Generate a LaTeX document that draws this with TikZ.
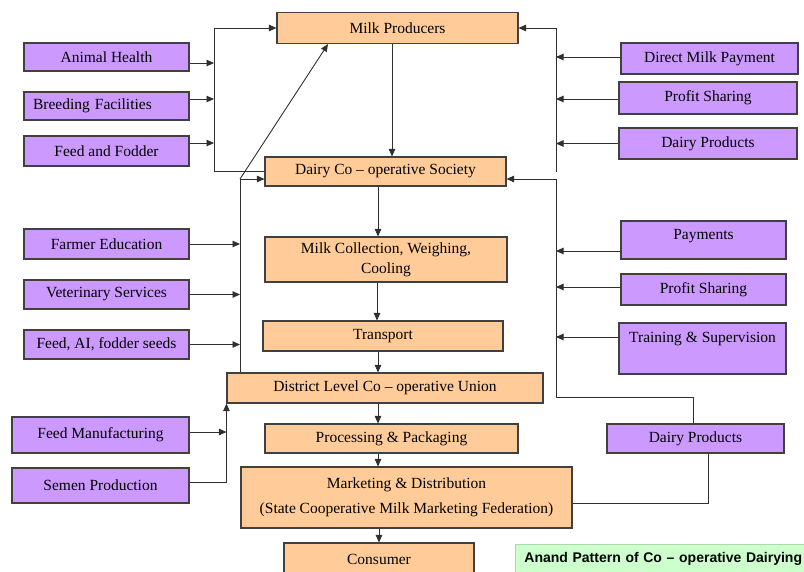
\documentclass[tikz,border=0pt]{standalone}
\usepackage{fontspec}
\setmainfont{Liberation Serif}
\newfontfamily\headfont{Liberation Sans}
\usetikzlibrary{arrows.meta}
\definecolor{peach}{HTML}{FFCC99}
\definecolor{lilac}{HTML}{CC99FF}
\definecolor{mint}{HTML}{CCFFCC}
\definecolor{boxline}{HTML}{404040}
\definecolor{wirecol}{HTML}{303030}
\newcommand{\bodyfont}{\fontsize{15.5}{18}\selectfont}
\begin{document}
\begin{tikzpicture}[x=1pt,y=-1pt,
  box/.style={draw=boxline, line width=1.1pt, inner sep=0pt, font=\bodyfont, align=center},
  org/.style={box, fill=peach},
  pur/.style={box, fill=lilac},
  wire/.style={draw=wirecol, line width=0.9pt},
  arr/.style={wire, -{Triangle[length=7.5pt,width=6.5pt]}},
]
\useasboundingbox (0,0) rectangle (804,571);

% main chain
\node[org, minimum width=241pt, minimum height=31pt] (mp) at (397.5,28) {Milk Producers};
\node[org, minimum width=241pt, minimum height=29pt] (dcs) at (385.5,171.5) {Dairy Co -- operative Society};
\node[org, minimum width=242pt, minimum height=45pt] (mc) at (386,259.5) {Milk Collection, Weighing,\\[2pt]Cooling};
\node[org, minimum width=240pt, minimum height=30pt] (tr) at (383,336) {Transport};
\node[org, minimum width=316pt, minimum height=30pt] (dl) at (385,388) {District Level Co -- operative Union};
\node[org, minimum width=253pt, minimum height=29pt] (pp) at (391.5,438.5) {Processing \& Packaging};
\node[org, minimum width=331pt, minimum height=61pt] (md) at (406.5,497.5) {Marketing \& Distribution\\[7pt](State Cooperative Milk Marketing Federation)};
\node[org, minimum width=190pt, minimum height=32pt] (cons) at (379,559) {Consumer};

% inputs on the left
\node[pur, minimum width=165pt, minimum height=28pt] (ah) at (106.5,57) {Animal Health};
\node[pur, minimum width=165pt, minimum height=28pt, text width=147pt, align=left] (bf) at (106.5,106) {Breeding Facilities};
\node[pur, minimum width=165pt, minimum height=30pt] (ff) at (106.5,151) {Feed and Fodder};
\node[pur, minimum width=165pt, minimum height=30pt] (fe) at (106.5,244) {Farmer Education};
\node[pur, minimum width=165pt, minimum height=29pt] (vs) at (106.5,294.5) {Veterinary Services};
\node[pur, minimum width=165pt, minimum height=29pt] (fa) at (106.5,344.5) {Feed, AI, fodder seeds};
\node[pur, minimum width=177pt, minimum height=36pt] (fm) at (100.5,435) {Feed Manufacturing};
\node[pur, minimum width=177pt, minimum height=35pt] (sp) at (100.5,485.5) {Semen Production};

% returns on the right
\node[pur, minimum width=177pt, minimum height=31pt] (dmp) at (709.5,58.5) {Direct Milk Payment};
\node[pur, minimum width=178pt, minimum height=32pt] (ps1) at (708,98) {Profit Sharing};
\node[pur, minimum width=178pt, minimum height=31pt] (dp1) at (708,143.5) {Dairy Products};
\node[pur, minimum width=165pt, minimum height=38pt, label={[font=\bodyfont, yshift=4pt]center:Payments}] (pay) at (703.5,240) {};
\node[pur, minimum width=165pt, minimum height=31pt] (ps2) at (703.5,289.5) {Profit Sharing};
\node[pur, minimum width=167pt, minimum height=51pt, label={[font=\bodyfont, yshift=9.5pt]center:Training \& Supervision}] (ts) at (702.5,348.5) {};
\node[pur, minimum width=177pt, minimum height=29pt] (dp2) at (695.5,438.5) {Dairy Products};

% caption box
\node[anchor=north west, fill=mint, draw=mint!85!black, line width=0.8pt,
      minimum height=30pt, text width=290pt, inner xsep=9pt, inner ysep=0pt, align=left,
      font=\headfont\bfseries\fontsize{14}{16}\selectfont] (cap) at (515,544)
      {Anand Pattern of Co – operative Dairying};

% bus lines
\coordinate (lb) at (214,0);
\coordinate (lb2) at (240,0);
\coordinate (rb) at (556,0);
\coordinate (rb2) at (0,397);

% main chain arrows
\draw[arr] ([xshift=-5.5pt]mp.south) -- ([xshift=-5.5pt]mp.south |- dcs.north);
\draw[arr] ([xshift=-7.5pt]dcs.south) -- ([xshift=-7.5pt]dcs.south |- mc.north);
\draw[arr] ([xshift=-9pt]mc.south) -- ([xshift=-9pt]mc.south |- tr.north);
\draw[arr] ([xshift=-5pt]tr.south) -- ([xshift=-5pt]tr.south |- dl.north);
\draw[arr] ([xshift=-7pt]dl.south) -- ([xshift=-7pt]dl.south |- pp.north);
\draw[arr] ([xshift=-13.5pt]pp.south) -- ([xshift=-13.5pt]pp.south |- md.north);
\draw[arr] ([xshift=-27.5pt]md.south) -- ([xshift=-27.5pt]md.south |- cons.north);

% left upper bus into Milk Producers
\draw[arr] (dcs.west) -- (lb |- dcs.west) -- (lb |- mp.west) -- (mp.west);
\draw[arr] ([yshift=-6pt]ah.east) -- ([yshift=-6pt]ah.east -| lb);
\draw[arr] ([yshift=7pt]bf.east) -- ([yshift=7pt]bf.east -| lb);
\draw[arr] ([yshift=8pt]ff.east) -- ([yshift=8pt]ff.east -| lb);

% left lower bus into the society
\coordinate (sin) at ([yshift=-7.5pt]dcs.west);
\draw[arr] (lb2 |- dl.north) -- (lb2 |- sin) -- (sin);
\draw[arr] (lb2 |- sin) -- ([xshift=-69.5pt]mp.south);
\draw[arr] (fe.east) -- (fe.east -| lb2);
\draw[arr] (vs.east) -- (vs.east -| lb2);
\draw[arr] (fa.east) -- (fa.east -| lb2);

% district union inputs
\draw[arr] ([yshift=3pt]fm.east) -- ([yshift=3pt]fm.east -| dl.south west);
\draw[arr] ([yshift=3.5pt]sp.east) -- ([yshift=3.5pt]sp.east -| dl.south west) -- (dl.south west);

% right upper bus into Milk Producers
\draw[arr] (rb |- dcs.east) -- (rb |- mp.east) -- (mp.east);
\draw[arr] ([yshift=1.5pt]dmp.west) -- ([yshift=1.5pt]dmp.west -| rb);
\draw[arr] ([yshift=-1pt]ps1.west) -- ([yshift=-1pt]ps1.west -| rb);
\draw[arr] (dp1.west) -- (dp1.west -| rb);

% right lower bus into the society
\coordinate (sout) at ([yshift=-7.5pt]dcs.east);
\draw[arr] ([xshift=-2.5pt]dp2.north) -- ([xshift=-2.5pt]dp2.north |- rb2) -- (rb |- rb2) -- (rb |- sout) -- (sout);
\draw[arr] ([yshift=-11pt]pay.west) -- ([yshift=-11pt]pay.west -| rb);
\draw[arr] ([yshift=2.5pt]ps2.west) -- ([yshift=2.5pt]ps2.west -| rb);
\draw[arr] ([yshift=11.5pt]ts.west) -- ([yshift=11.5pt]ts.west -| rb);

% federation to dairy products
\draw[wire] ([xshift=12.5pt]dp2.south) -- ([xshift=12.5pt]dp2.south |- 0,503) -- (md.east |- 0,503);
\end{tikzpicture}
\end{document}
